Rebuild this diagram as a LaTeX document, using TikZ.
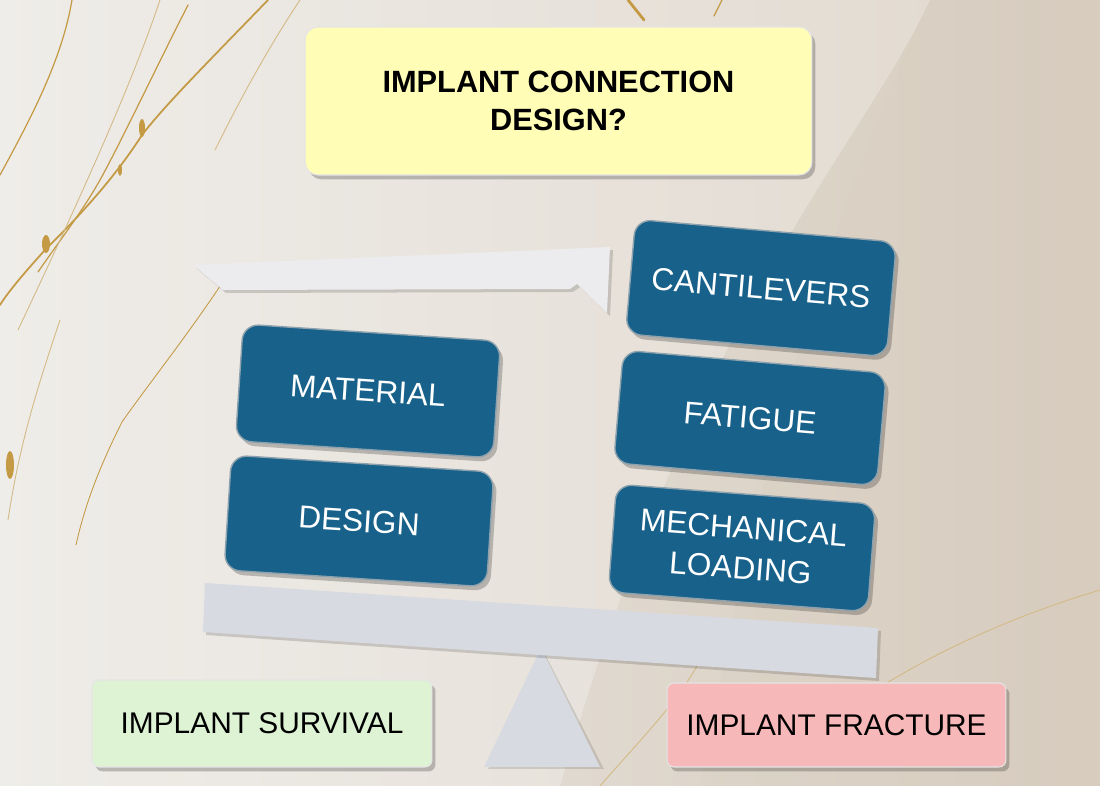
\documentclass[tikz,border=0pt]{standalone}
\usepackage{fontspec}
\setmainfont{Liberation Sans}
\usetikzlibrary{shadows}
\definecolor{blueC}{HTML}{17618A}
\definecolor{blueEdge}{HTML}{8EA2AE}
\definecolor{yellowC}{HTML}{FFFDB6}
\definecolor{greenC}{HTML}{DDF3D4}
\definecolor{pinkC}{HTML}{F6B8B8}
\definecolor{plankC}{HTML}{D8DAE2}
\definecolor{whiteC}{HTML}{ECECEE}
\definecolor{goldC}{HTML}{C49A45}
\definecolor{bgL}{HTML}{EAE7E2}
\definecolor{bgR}{HTML}{D7CCBE}
\begin{document}
\begin{tikzpicture}[x=0.02cm,y=-0.02cm,
  shade1/.style={drop shadow={shadow xshift=2pt,shadow yshift=-2.5pt,opacity=0.22,fill=black}},
  bluebox/.style={shade1,fill=blueC,draw=blueEdge,line width=0.8pt,rounded corners=0.32cm,
     text=white,font=\fontsize{18}{23}\selectfont,align=center,inner sep=0pt},
  labelbox/.style={shade1,rounded corners=0.14cm,draw=white!80!gray,line width=0.6pt,
     font=\fontsize{17}{20}\selectfont,text=black,inner sep=0pt,align=center},
  vein/.style={draw=goldC,line cap=round,line width=0.7pt},
  fvein/.style={draw=goldC!60!bgL,line cap=round,line width=0.5pt}]
\useasboundingbox (0,0) rectangle (1100,786);
% background
\shade[left color=bgL,right color=bgR] (0,0) rectangle (1100,786);
\fill[white,opacity=0.25] (0,0) -- (930,0) .. controls (860,150) and (700,300) .. (560,786) -- (0,786) -- cycle;
\fill[bgR,opacity=0.2] (930,0) .. controls (860,150) and (780,350) .. (700,786) -- (1100,786) -- (1100,0) -- cycle;
% veins
\draw[vein,line width=1pt] (268,0) .. controls (210,60) and (165,105) .. (142,135) .. controls (110,185) and (70,225) .. (45,250) .. controls (25,272) and (8,292) .. (0,305);
\draw[vein] (72,0) .. controls (62,60) and (30,120) .. (0,175);
\draw[vein] (188,5) .. controls (150,80) and (122,140) .. (100,180) .. controls (82,212) and (60,240) .. (38,272);
\draw[fvein] (160,0) .. controls (130,90) and (70,220) .. (18,330);
\draw[vein,line width=0.5pt] (232,268) .. controls (192,330) and (150,382) .. (122,422) .. controls (102,462) and (86,500) .. (76,545);
\draw[fvein] (60,320) .. controls (40,380) and (20,440) .. (8,520);
\draw[fvein] (300,0) .. controls (260,60) and (230,120) .. (215,150);
\fill[goldC] (142,128) ellipse (3 and 9);
\fill[goldC] (46,244) ellipse (4 and 9);
\fill[goldC] (120,170) ellipse (2 and 6);
\fill[goldC] (10,465) ellipse (4 and 14);
\draw[vein,line width=1.6pt] (628,0) -- (644,20);
\draw[vein] (722,0) -- (714,16);
\draw[fvein] (1100,590) .. controls (1000,620) and (920,660) .. (860,700);
\draw[fvein] (600,786) .. controls (640,740) and (680,700) .. (700,660);
% top title
\node[labelbox,fill=yellowC,rounded corners=0.26cm,minimum width=10.14cm,minimum height=2.96cm,
      font=\fontsize{17.5}{21.5}\selectfont\bfseries] (top) at (558.5,101) {IMPLANT CONNECTION\\DESIGN?};
% white bent bar
\fill[black,opacity=0.15] (196,268) -- (613,250) -- (610,316) -- (580,287) -- (573,292) -- (226,293) -- cycle;
\fill[whiteC] (193,265) -- (610,247) -- (607,313) -- (577,284) -- (570,289) -- (223,290) -- cycle;
% fulcrum and plank
\fill[black,opacity=0.12] (544,652) -- (488,769) -- (604,769) -- cycle;
\fill[plankC] (541,648) -- (484,767) -- (600,767) -- cycle;
\fill[black,opacity=0.15] (208,586) -- (881,631) -- (879,681) -- (206,635) -- cycle;
\fill[plankC] (205,583) -- (878,628) -- (876,678) -- (203,632) -- cycle;
% blue boxes
\node[bluebox,rotate=-3.8,minimum width=5.16cm,minimum height=2.34cm] (mat) at (368,391) {MATERIAL};
\node[bluebox,rotate=-3.7,minimum width=5.26cm,minimum height=2.30cm] (des) at (359,521) {DESIGN};
\node[bluebox,rotate=-5,minimum width=5.24cm,minimum height=2.30cm] (cant) at (761,288) {CANTILEVERS};
\node[bluebox,rotate=-5,minimum width=5.28cm,minimum height=2.26cm] (fat) at (750,418) {FATIGUE};
\node[bluebox,rotate=-4.4,minimum width=5.20cm,minimum height=2.16cm] (mech) at (742,548) {MECHANICAL\\LOADING};
% outcome boxes
\node[labelbox,fill=greenC,minimum width=6.8cm,minimum height=1.74cm] (surv) at (262,723.5) {IMPLANT SURVIVAL};
\node[labelbox,fill=pinkC,minimum width=6.78cm,minimum height=1.68cm] (frac) at (836.5,725) {IMPLANT FRACTURE};
\end{tikzpicture}
\end{document}
